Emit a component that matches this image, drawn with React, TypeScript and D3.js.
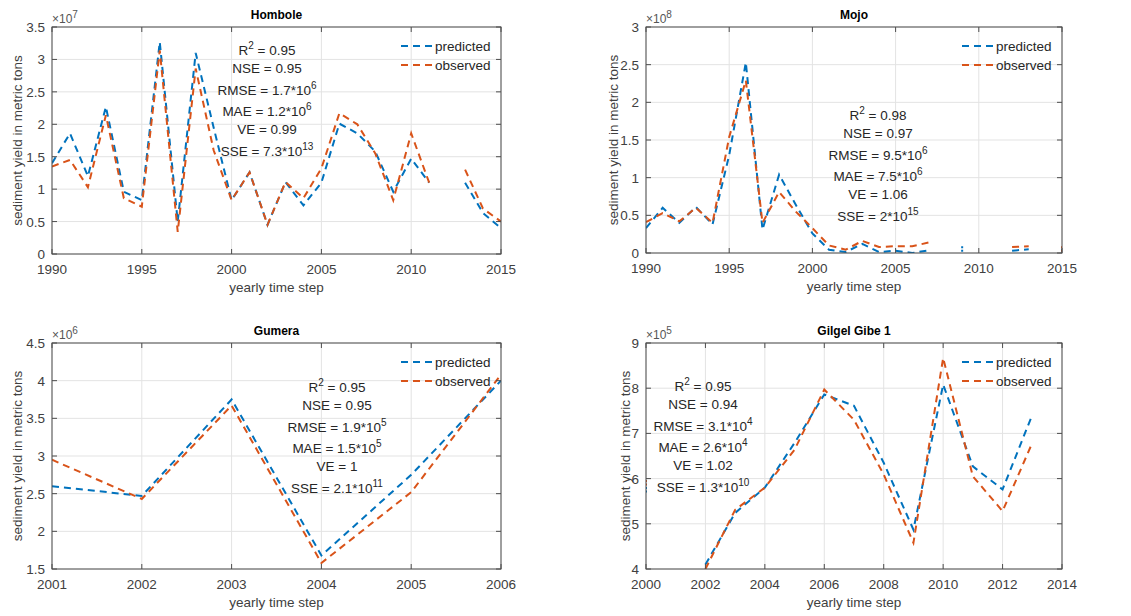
import React from 'react';
import * as d3 from 'd3';

const BLUE = '#0072BD';
const ORANGE = '#D95319';
const FONT = "'Liberation Sans', Arial, Helvetica, sans-serif";

// Hombole, values x10^7
const hombYears = [1990, 1991, 1992, 1993, 1994, 1995, 1996, 1997, 1998, 1999, 2000, 2001, 2002,
  2003, 2004, 2005, 2006, 2007, 2008, 2009, 2010, 2011, 2012, 2013, 2014, 2015];
const hombPredicted = [1.4, 1.86, 1.2, 2.27, 0.96, 0.83, 3.27, 0.5, 3.1, 1.95, 0.83, 1.26, 0.45,
  1.11, 0.75, 1.1, 2.01, 1.86, 1.58, 0.96, 1.47, 1.1, null, 1.1, 0.63, 0.4];
const hombObserved = [1.35, 1.45, 1.03, 2.14, 0.86, 0.73, 3.14, 0.34, 2.86, 1.6, 0.83, 1.26, 0.45,
  1.11, 0.86, 1.32, 2.17, 2.0, 1.55, 0.83, 1.86, 1.1, null, 1.3, 0.7, 0.5];
const hombXTicks = [1990, 1995, 2000, 2005, 2010, 2015];
const hombYTicks = [0, 0.5, 1, 1.5, 2, 2.5, 3, 3.5];
const hombStats = ['R^2 = 0.95', 'NSE = 0.95', 'RMSE = 1.7*10^6', 'MAE = 1.2*10^6', 'VE = 0.99', 'SSE = 7.3*10^13'];

// Mojo, values x10^8
const mojoYears = hombYears;
const mojoPredicted = [0.33, 0.6, 0.4, 0.61, 0.38, 1.3, 2.53, 0.31, 1.04, 0.64, 0.26, 0.044, 0.013,
  0.12, 0.013, 0.03, 0.0, 0.035, null, 0.05, null, null, 0.03, 0.05, null, 0.01];
const mojoObserved = [0.41, 0.53, 0.42, 0.6, 0.4, 1.54, 2.29, 0.4, 0.81, 0.55, 0.33, 0.1, 0.044,
  0.16, 0.08, 0.09, 0.09, 0.14, null, null, null, null, 0.08, 0.09, null, 0.05];
const mojoXTicks = hombXTicks;
const mojoYTicks = [0, 0.5, 1, 1.5, 2, 2.5, 3];
const mojoStats = ['R^2 = 0.98', 'NSE = 0.97', 'RMSE = 9.5*10^6', 'MAE = 7.5*10^6', 'VE = 1.06', 'SSE = 2*10^15'];

// Gumera, values x10^6
const gumYears = [2001, 2002, 2003, 2004, 2005, 2006];
const gumPredicted = [2.6, 2.47, 3.75, 1.68, 2.75, 4.0];
const gumObserved = [2.95, 2.43, 3.67, 1.58, 2.52, 4.08];
const gumXTicks = gumYears;
const gumYTicks = [1.5, 2, 2.5, 3, 3.5, 4, 4.5];
const gumStats = ['R^2 = 0.95', 'NSE = 0.95', 'RMSE = 1.9*10^5', 'MAE = 1.5*10^5', 'VE = 1', 'SSE = 2.1*10^11'];

// Gilgel Gibe 1, values x10^5
const ggYears = [2000, 2001, 2002, 2003, 2004, 2005, 2006, 2007, 2008, 2009, 2010, 2011, 2012, 2013];
const ggPredicted = [5.75, null, 4.1, 5.24, 5.8, 6.79, 7.86, 7.61, 6.35, 4.87, 8.08, 6.27, 5.76, 7.41];
const ggObserved = [5.9, null, 4.0, 5.31, 5.8, 6.64, 7.97, 7.3, 6.09, 4.58, 8.67, 6.05, 5.28, 6.79];
const ggXTicks = [2000, 2002, 2004, 2006, 2008, 2010, 2012, 2014];
const ggYTicks = [4, 5, 6, 7, 8, 9];
const ggStats = ['R^2 = 0.95', 'NSE = 0.94', 'RMSE = 3.1*10^4', 'MAE = 2.6*10^4', 'VE = 1.02', 'SSE = 1.3*10^10'];

const seriesNames = ['predicted', 'observed'];

type Val = number | null;

function RichText({ s, x, y }: { s: string; x: number; y: number }) {
  const parts = s.split(/(\^\d+)/).filter(p => p.length);
  const out: React.ReactNode[] = [];
  let raised = false;
  parts.forEach((p, i) => {
    if (p.startsWith('^')) {
      out.push(<tspan key={i} dy={-6} fontSize={10}>{p.slice(1)}</tspan>);
      raised = true;
    } else {
      out.push(<tspan key={i} dy={raised ? 6 : 0}>{p}</tspan>);
      raised = false;
    }
  });
  return <text x={x} y={y} textAnchor="middle" fontSize={13.5} fill="#262626">{out}</text>;
}

interface PanelProps {
  id: string;
  title: string;
  box: { left: number; right: number; top: number; bottom: number };
  years: number[];
  predicted: Val[];
  observed: Val[];
  xTicks: number[];
  yTicks: number[];
  exponent: number;
  stats: string[];
  statsAt: [number, number];
  yLabelGap: number;
}

function Panel(p: PanelProps) {
  const { left, right, top, bottom } = p.box;
  const x = d3.scaleLinear().domain(d3.extent(p.xTicks) as [number, number]).range([left, right]);
  const y = d3.scaleLinear().domain(d3.extent(p.yTicks) as [number, number]).range([bottom, top]);
  const line = d3.line<Val>()
    .defined(d => d != null)
    .x((_, i) => x(p.years[i]))
    .y(d => y(d as number));

  const lone = (vals: Val[]) => vals
    .map((v, i) => ({ v, i }))
    .filter(({ v, i }) => v != null && vals[i - 1] == null && vals[i + 1] == null);

  const series = [p.predicted, p.observed];
  const colors = [BLUE, ORANGE];
  const tick = 5;

  // stats line baselines: extra room above lines with a superscript
  const statY: number[] = [];
  p.stats.forEach((s, i) => {
    if (i === 0) statY.push(p.statsAt[1]);
    else statY.push(statY[i - 1] + 18 + (s.includes('^') ? 3.5 : 0));
  });

  return (
    <g fontFamily={FONT}>
      <defs>
        <clipPath id={`clip-${p.id}`}>
          <rect x={left} y={top} width={right - left} height={bottom - top} />
        </clipPath>
      </defs>
      <rect x={left} y={top} width={right - left} height={bottom - top} fill="#fff" />
      {p.xTicks.map(t => (
        <line key={`gx${t}`} x1={x(t)} x2={x(t)} y1={top} y2={bottom} stroke="#e3e3e3" />
      ))}
      {p.yTicks.map(t => (
        <line key={`gy${t}`} x1={left} x2={right} y1={y(t)} y2={y(t)} stroke="#e3e3e3" />
      ))}
      <g clipPath={`url(#clip-${p.id})`}>
        {series.map((vals, k) => (
          <g key={k}>
            <path d={line(vals) || ''} fill="none" stroke={colors[k]} strokeWidth={2}
              strokeDasharray="7,5" />
            {lone(vals).map(({ v, i }) => (
              <line key={i} x1={x(p.years[i])} x2={x(p.years[i])} y1={y(v as number) - 3}
                y2={y(v as number) + 3} stroke={colors[k]} strokeWidth={2} strokeDasharray="2,1.5" />
            ))}
          </g>
        ))}
      </g>
      {/* box + inward ticks */}
      <rect x={left} y={top} width={right - left} height={bottom - top} fill="none" stroke="#4d4d4d" />
      {p.xTicks.map(t => (
        <g key={`tx${t}`} stroke="#4d4d4d">
          <line x1={x(t)} x2={x(t)} y1={bottom} y2={bottom - tick} />
          <line x1={x(t)} x2={x(t)} y1={top} y2={top + tick} />
        </g>
      ))}
      {p.yTicks.map(t => (
        <g key={`ty${t}`} stroke="#4d4d4d">
          <line x1={left} x2={left + tick} y1={y(t)} y2={y(t)} />
          <line x1={right} x2={right - tick} y1={y(t)} y2={y(t)} />
        </g>
      ))}
      {p.xTicks.map(t => (
        <text key={`lx${t}`} x={x(t)} y={bottom + 20} textAnchor="middle" fontSize={13.5} fill="#404040">{t}</text>
      ))}
      {p.yTicks.map(t => (
        <text key={`ly${t}`} x={left - 7} y={y(t) + 5} textAnchor="end" fontSize={13.5} fill="#404040">{t}</text>
      ))}
      <text x={left} y={top - 4} fontSize={12} fill="#555">
        ×10<tspan dy={-5} fontSize={10}>{p.exponent}</tspan>
      </text>
      <text x={(left + right) / 2} y={top - 8} textAnchor="middle" fontSize={12} fontWeight="bold" fill="#000">{p.title}</text>
      <text x={(left + right) / 2} y={bottom + 38} textAnchor="middle" fontSize={13.5} fill="#404040">yearly time step</text>
      <text transform={`translate(${left - p.yLabelGap + 5},${(top + bottom) / 2}) rotate(-90)`}
        textAnchor="middle" fontSize={13.5} fill="#404040">sediment yield in metric tons</text>
      {seriesNames.map((name, k) => (
        <g key={name}>
          <line x1={right - 100} x2={right - 68} y1={top + 19 + k * 19} y2={top + 19 + k * 19}
            stroke={colors[k]} strokeWidth={2} strokeDasharray="7,5" />
          <text x={right - 66} y={top + 24 + k * 19} fontSize={13.5} fill="#262626">{name}</text>
        </g>
      ))}
      {p.stats.map((s, i) => (
        <RichText key={i} s={s} x={p.statsAt[0]} y={statY[i]} />
      ))}
    </g>
  );
}

export default function App() {
  return (
    <svg width={1131} height={616} style={{ position: 'absolute', left: 0, top: 0, background: '#fff' }}>
      <Panel id="homb" title="Hombole" box={{ left: 52, right: 501, top: 27, bottom: 254 }}
        years={hombYears} predicted={hombPredicted} observed={hombObserved}
        xTicks={hombXTicks} yTicks={hombYTicks} exponent={7} stats={hombStats}
        statsAt={[267, 55]} yLabelGap={35} />
      <Panel id="mojo" title="Mojo" box={{ left: 646, right: 1062, top: 27, bottom: 253 }}
        years={mojoYears} predicted={mojoPredicted} observed={mojoObserved}
        xTicks={mojoXTicks} yTicks={mojoYTicks} exponent={8} stats={mojoStats}
        statsAt={[878, 120]} yLabelGap={33} />
      <Panel id="gum" title="Gumera" box={{ left: 52, right: 501, top: 343, bottom: 569 }}
        years={gumYears} predicted={gumPredicted} observed={gumObserved}
        xTicks={gumXTicks} yTicks={gumYTicks} exponent={6} stats={gumStats}
        statsAt={[337, 392]} yLabelGap={35} />
      <Panel id="gg" title="Gilgel Gibe 1" box={{ left: 646, right: 1062, top: 343, bottom: 569 }}
        years={ggYears} predicted={ggPredicted} observed={ggObserved}
        xTicks={ggXTicks} yTicks={ggYTicks} exponent={5} stats={ggStats}
        statsAt={[703, 391]} yLabelGap={21} />
    </svg>
  );
}
